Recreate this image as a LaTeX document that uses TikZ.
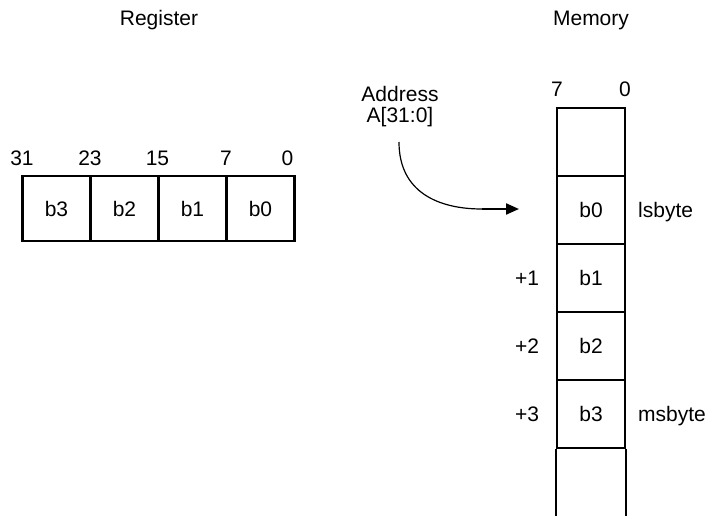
\documentclass[tikz,border=0pt]{standalone}
\usepackage{fontspec}
\setmainfont{Liberation Sans}
\usetikzlibrary{arrows.meta}
\begin{document}
\begin{tikzpicture}[x=1pt,y=-1pt,
  font=\fontsize{21}{21}\selectfont,
  regcell/.style={draw, line width=2.2pt, minimum width=68pt, minimum height=65pt, inner sep=0pt, anchor=center},
  memcell/.style={draw, line width=2.2pt, minimum width=68pt, minimum height=68pt, inner sep=0pt, anchor=center},
  lbl/.style={inner sep=0pt, anchor=base},
  conn/.style={line width=1.2pt},
  tip/.style={line width=2.2pt, -{Triangle[length=13pt,width=11pt]}}]
\useasboundingbox (0,0) rectangle (721,515);
% titles
\node[lbl] (treg) at (159,25) {Register};
\node[lbl] (tmem) at (591,25) {Memory};
% register
\node[regcell] (r3) at (56.5,208.5) {b3};
\node[regcell] (r2) at (124.5,208.5) {b2};
\node[regcell] (r1) at (192.5,208.5) {b1};
\node[regcell] (r0) at (260.5,208.5) {b0};
\node[lbl] (n31) at (22,165) {31};
\node[lbl] (n23) at (90,165) {23};
\node[lbl] (n15) at (157.5,165) {15};
\node[lbl] (n7) at (226,165) {7};
\node[lbl] (n0) at (287.5,165) {0};
% memory
\node[memcell] (mt) at (591,142) {};
\node[memcell] (m0) at (591,210) {b0};
\node[memcell] (m1) at (591,278) {b1};
\node[memcell] (m2) at (591,346) {b2};
\node[memcell] (m3) at (591,414) {b3};
\draw[line width=2.2pt] (m3.south west) -- ++(0,70);
\draw[line width=2.2pt] (m3.south east) -- ++(0,70);
\node[lbl] (mb7) at (557,96) {7};
\node[lbl] (mb0) at (625,96) {0};
\node[lbl] (p1) at (527,285) {+1};
\node[lbl] (p2) at (527,353) {+2};
\node[lbl] (p3) at (527,421) {+3};
\node[lbl, anchor=base west] (ls) at (638,217) {lsbyte};
\node[lbl, anchor=base west] (ms) at (638,421) {msbyte};
% address
\node[align=center, inner sep=0pt] (addr) at (400,107) {Address\\A[31:0]};
\coordinate (a1) at (399,142);
\coordinate (a2) at (482,209);
\coordinate (a3) at (519,209);
\draw[conn] (a1) .. controls (399,192) and (438,209) .. (a2);
\draw[tip] (a2) -- (a3);
\end{tikzpicture}
\end{document}
